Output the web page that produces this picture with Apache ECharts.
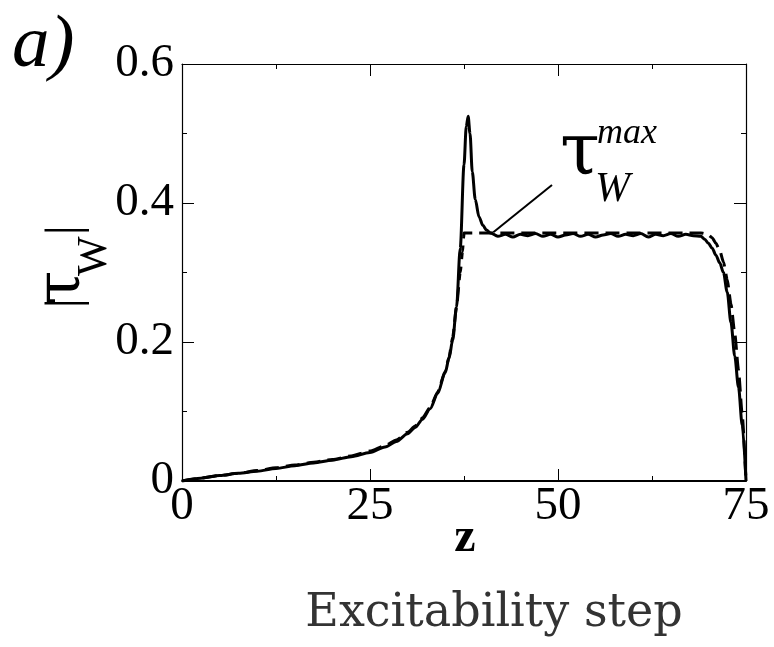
<!DOCTYPE html>
<html><head><meta charset="utf-8">
<script src="https://cdn.jsdelivr.net/npm/echarts@6/dist/echarts.min.js"></script>
<style>html,body{margin:0;padding:0;background:#fff}#c{width:774px;height:647px}</style>
</head><body><div id="c"></div>
<script>
// ---- data ----
const solidZ = [0, 2.5, 5, 7.5, 10, 12.5, 15, 17.5, 20, 22.5, 25, 27, 28.5, 30, 31, 32, 33, 34, 35, 35.5, 36, 36.5, 37, 37.5, 37.8, 38.05, 38.3, 38.6, 39, 39.5, 40, 40.5, 41,
  42, 43, 44, 45, 46, 47, 48, 49, 50, 51, 52, 53, 54, 55, 56, 57, 58, 59, 60, 61, 62, 63, 64, 65, 66, 67, 68, 69,
  69.5, 70, 70.5, 71, 71.5, 72, 72.5, 73, 73.5, 74, 74.5, 75];
const solidV = [0, 0.004, 0.008, 0.011, 0.014, 0.018, 0.022, 0.026, 0.030, 0.035, 0.041, 0.049, 0.057, 0.068, 0.077, 0.089, 0.104, 0.126, 0.156, 0.176, 0.203, 0.25, 0.335, 0.455, 0.51, 0.525, 0.50, 0.445, 0.405, 0.38, 0.368, 0.361, 0.357,
  0.352, 0.355, 0.351, 0.355, 0.353, 0.356, 0.352, 0.355, 0.351, 0.354, 0.356, 0.352, 0.355, 0.351, 0.354, 0.356, 0.352, 0.355, 0.353, 0.356, 0.351, 0.355, 0.353, 0.356, 0.352, 0.355, 0.353, 0.352,
  0.348, 0.342, 0.335, 0.325, 0.314, 0.300, 0.272, 0.228, 0.18, 0.135, 0.08, 0];
const dashZ = [0, 2.5, 5, 7.5, 10, 12.5, 15, 17.5, 20, 22.5, 25, 27, 28.5, 30, 31, 32, 33, 34, 35, 35.5, 36, 36.5, 37, 37.3, 37.45, 37.5,
  69, 69.5, 70, 70.5, 71, 71.5, 72, 72.5, 73, 73.5, 74, 74.5, 75];
const dashV = [0, 0.004, 0.008, 0.011, 0.015, 0.019, 0.023, 0.027, 0.031, 0.036, 0.043, 0.051, 0.059, 0.070, 0.079, 0.091, 0.106, 0.128, 0.158, 0.178, 0.207, 0.25, 0.30, 0.33, 0.35, 0.357,
  0.357, 0.356, 0.354, 0.35, 0.342, 0.332, 0.315, 0.29, 0.255, 0.213, 0.16, 0.095, 0];
const xTicks = [0, 25, 50, 75];
const yTicks = ['0', '0.2', '0.4', '0.6'];
const pointerFrom = [49.2, 0.426];
const pointerTo = [41.4, 0.358];

const solidData = solidZ.map((z, i) => [z, solidV[i]]);
const dashData = dashZ.map((z, i) => [z, dashV[i]]);

const SERIF = '"Liberation Serif", "Times New Roman", serif';
const tickFont = { fontFamily: SERIF, fontSize: 47, color: '#000' };

function xAxisDef(pos, showLabel) {
  return {
    type: 'value', min: 0, max: 75, interval: 25, position: pos,
    axisLine: { show: true, onZero: false, lineStyle: { color: '#000', width: pos === 'bottom' ? 1.8 : 1.2 } },
    axisTick: { show: true, inside: true, length: 12, lineStyle: { color: '#000', width: 1 } },
    minorTick: { show: true, splitNumber: 2, length: 5, lineStyle: { color: '#000', width: 1 } },
    splitLine: { show: false }, minorSplitLine: { show: false },
    axisLabel: Object.assign({ show: showLabel, margin: 2,
      formatter: v => (xTicks.indexOf(v) >= 0 ? String(v) : '') }, tickFont)
  };
}
function yAxisDef(pos, showLabel) {
  return {
    type: 'value', min: 0, max: 0.6, interval: 0.2, position: pos,
    axisLine: { show: true, onZero: false, lineStyle: { color: '#000', width: 1.2 } },
    axisTick: { show: true, inside: true, length: 12, lineStyle: { color: '#000', width: 1 } },
    minorTick: { show: true, splitNumber: 2, length: 5, lineStyle: { color: '#000', width: 1 } },
    splitLine: { show: false }, minorSplitLine: { show: false },
    axisLabel: Object.assign({ show: showLabel, margin: 8,
      formatter: v => yTicks[Math.round(v / 0.2)] }, tickFont)
  };
}

const chart = echarts.init(document.getElementById('c'), null, { renderer: 'canvas' });
const K = 0.32; // baseline offset for 'middle' vertical alignment
chart.setOption({
  animation: false,
  backgroundColor: '#fff',
  grid: { left: 182, right: 28, top: 64, bottom: 166, containLabel: false },
  xAxis: [xAxisDef('bottom', true), xAxisDef('top', false)],
  yAxis: [yAxisDef('left', true), yAxisDef('right', false)],
  series: [
    {
      type: 'line', data: dashData, showSymbol: false, smooth: 0.2, smoothMonotone: 'x',
      lineStyle: { color: '#000', width: 3, type: [14, 7] }, z: 2
    },
    {
      type: 'line', data: solidData, showSymbol: false, smooth: 0.3, smoothMonotone: 'x',
      lineStyle: { color: '#000', width: 3, type: 'solid' }, z: 3,
      markLine: {
        silent: true, symbol: ['none', 'none'], label: { show: false },
        lineStyle: { color: '#000', width: 2, type: 'solid' },
        data: [[{ coord: pointerFrom }, { coord: pointerTo }]]
      }
    }
  ],
  graphic: [
    { type: 'text', x: 12, y: 70 - K * 75, style: { text: 'a)', font: 'italic 75px ' + SERIF, fill: '#000', align: 'left', verticalAlign: 'middle' } },
    { type: 'text', x: 560, y: 178 - K * 72, style: { text: 'τ', font: '72px "DejaVu Serif", serif', fill: '#000', align: 'left', verticalAlign: 'middle' } },
    { type: 'text', x: 597, y: 145 - K * 36, style: { text: 'max', font: 'italic 36px ' + SERIF, fill: '#000', align: 'left', verticalAlign: 'middle' } },
    { type: 'text', x: 595, y: 203 - K * 42, style: { text: 'W', font: 'italic 42px ' + SERIF, fill: '#000', align: 'left', verticalAlign: 'middle' } },
    { type: 'text', x: 465, y: 555 - K * 50, style: { text: 'z', font: 'bold 48px ' + SERIF, fill: '#000', align: 'center', verticalAlign: 'middle' } },
    { type: 'text', x: 494, y: 630 - 0.35 * 46, style: { text: 'Excitability step', font: '46px "DejaVu Serif", serif', fill: '#333', align: 'center', verticalAlign: 'middle' } },
    {
      type: 'group', x: 82, y: 270, rotation: Math.PI / 2,
      children: [
        { type: 'text', x: -38, y: -K * 48, style: { text: '|', font: '48px ' + SERIF, fill: '#000', align: 'left', verticalAlign: 'middle' } },
        { type: 'text', x: -35, y: 1 - K * 62, style: { text: 'τ', font: '62px "DejaVu Serif", serif', fill: '#000', align: 'left', verticalAlign: 'middle' } },
        { type: 'text', x: -6, y: 26 - K * 42, style: { text: 'W', font: '42px ' + SERIF, fill: '#000', align: 'left', verticalAlign: 'middle' } },
        { type: 'text', x: 35, y: -K * 48, style: { text: '|', font: '48px ' + SERIF, fill: '#000', align: 'left', verticalAlign: 'middle' } }
      ]
    }
  ]
});
</script></body></html>
